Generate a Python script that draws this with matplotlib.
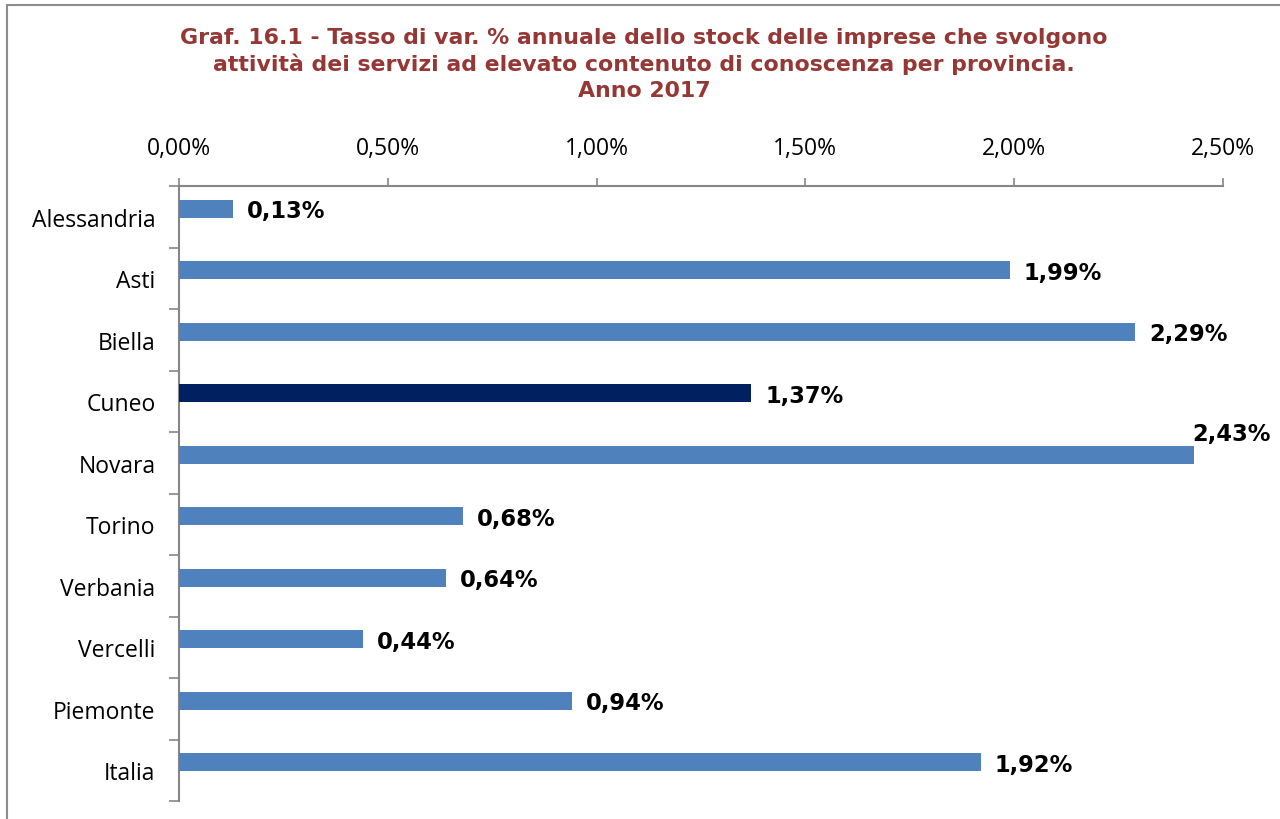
import matplotlib
matplotlib.use("Agg")
import matplotlib.pyplot as plt
from matplotlib.patches import Rectangle
from matplotlib.ticker import FuncFormatter

categories = ["Alessandria", "Asti", "Biella", "Cuneo", "Novara", "Torino",
              "Verbania", "Vercelli", "Piemonte", "Italia"]
values = [0.13, 1.99, 2.29, 1.37, 2.43, 0.68, 0.64, 0.44, 0.94, 1.92]
bar_colors = ["#4F81BD", "#4F81BD", "#4F81BD", "#002060", "#4F81BD",
              "#4F81BD", "#4F81BD", "#4F81BD", "#4F81BD", "#4F81BD"]
x_ticks = [0.0, 0.5, 1.0, 1.5, 2.0, 2.5]
title = ("Graf. 16.1 - Tasso di var. % annuale dello stock delle imprese che svolgono\n"
         "attività dei servizi ad elevato contenuto di conoscenza per provincia.\n"
         "Anno 2017")

W, H = 1280, 820
fig = plt.figure(figsize=(W / 100, H / 100), dpi=100)
fig.patch.set_facecolor("white")

# outer border
fig.add_artist(Rectangle((7 / W, -0.01), 1.2, (H - 6) / H + 0.01, transform=fig.transFigure,
                         fill=False, edgecolor="#8C8C8C", linewidth=1.5))

left, right, top, bottom = 179, 1223, 187, 802
ax = fig.add_axes([left / W, 1 - bottom / H, (right - left) / W, (bottom - top) / H])

n = len(categories)
ypos = list(range(n))
offset = -0.13
ax.barh([y + offset for y in ypos], values, height=0.29, color=bar_colors, zorder=3)

ax.set_xlim(0, 2.5)
ax.set_ylim(n - 0.5, -0.5)
ax.xaxis.tick_top()
ax.set_xticks(x_ticks)
ax.xaxis.set_major_formatter(FuncFormatter(lambda v, p: f"{v:.2f}%".replace(".", ",")))
ax.set_yticks(ypos)
ax.set_yticklabels(categories)
ax.set_yticks([y - 0.5 for y in range(n + 1)], minor=True)

for s in ["right", "bottom"]:
    ax.spines[s].set_visible(False)
for s in ["top", "left"]:
    ax.spines[s].set_color("#868686")
    ax.spines[s].set_linewidth(1.5)

ax.tick_params(axis="x", which="major", direction="out", length=6, width=1.2,
               color="#868686", labelsize=16.5, pad=13, labelcolor="black")
ax.tick_params(axis="y", which="major", length=0, labelsize=16.5, pad=17)
ax.tick_params(axis="y", which="minor", direction="out", length=7, width=1.2, color="#868686")
for lab in ax.get_xticklabels() + ax.get_yticklabels():
    lab.set_fontfamily("Open Sans")

for y, v in zip(ypos, values):
    txt = f"{v:.2f}%".replace(".", ",")
    if v > 2.4:
        ax.annotate(txt, (v, y + offset), xytext=(-1, 7), textcoords="offset points",
                    ha="left", va="bottom", fontsize=16.3, fontweight="bold",
                    fontfamily="DejaVu Sans", zorder=4)
    else:
        ax.annotate(txt, (v, y + offset + 0.03), xytext=(10, 0), textcoords="offset points",
                    ha="left", va="center", fontsize=16.3, fontweight="bold",
                    fontfamily="DejaVu Sans", zorder=4)

fig.text(644 / W, 1 - 28 / H, title, ha="center", va="top", fontsize=15.8,
         fontweight="bold", color="#953735", fontfamily="DejaVu Sans", linespacing=1.33)

fig.savefig("out.png", dpi=100)
